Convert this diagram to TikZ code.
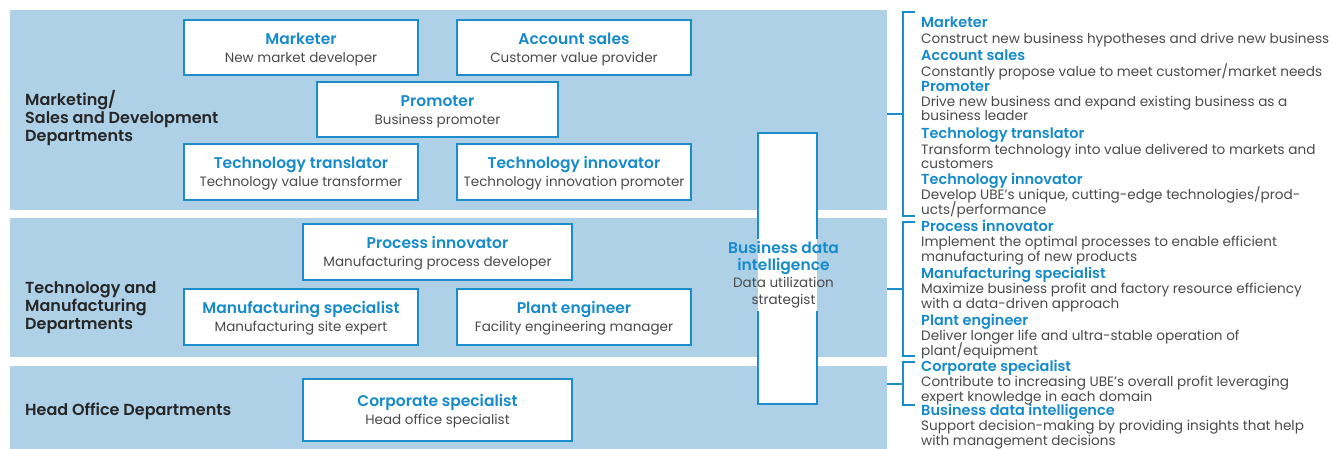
\documentclass[tikz,border=0pt]{standalone}
\usepackage{fontspec}
\setmainfont{Poppins}[BoldFont={Poppins SemiBold}]
\definecolor{panelblue}{HTML}{AED1E8}
\definecolor{edgeblue}{HTML}{1B8DCB}
\definecolor{titleblue}{HTML}{168BCB}
\definecolor{bodygray}{HTML}{4A4A4A}
\definecolor{deptdark}{HTML}{262626}
\newcommand\roleTitle[1]{{\fontsize{15.5}{18}\selectfont\bfseries\color{titleblue}\rule{0pt}{15pt}#1}}
\newcommand\roleSub[1]{{\color{bodygray}#1}}
\newcommand\colTitle[1]{{\fontsize{15.5}{17}\selectfont\bfseries\color{titleblue}#1}}
\newcommand\listTitle[1]{{\fontsize{14.5}{14.3}\selectfont\bfseries\color{titleblue}#1}}
\newcommand\listFont{\fontsize{13.6}{14.3}\selectfont\lineskiplimit-20pt\relax}
\tikzset{
  rolebox/.style={draw=edgeblue, line width=2.2pt, fill=white, inner sep=0pt,
    minimum width=234pt, minimum height=55pt, align=center,
    font=\fontsize{13.5}{18}\selectfont},
  deptlabel/.style={anchor=west, align=left, inner sep=0pt, text=deptdark,
    font=\fontsize{16}{18}\selectfont\bfseries},
  entry/.style={anchor=north west, align=left, inner sep=0pt, text=bodygray,
    font=\listFont},
  bracket/.style={draw=edgeblue, line width=1.3pt},
}
\begin{document}
\begin{tikzpicture}[x=1pt, y=-1pt]
\useasboundingbox (0,0) rectangle (1332,448);
\clip (0,0) rectangle (1332,448);

% department bands
\fill[panelblue] (10,10) rectangle (887,210);
\fill[panelblue] (10,218) rectangle (887,357);
\fill[panelblue] (10,366) rectangle (887,460);

% department names
\node[deptlabel] (dept1) at (25,118.5) {Marketing/\\Sales and Development\\Departments};
\node[deptlabel] (dept2) at (25,307.5) {Technology and\\Manufacturing\\Departments};
\node[deptlabel] (dept3) at (25,411) {Head Office Departments};

% roles in each department
\node[rolebox] (marketer) at (301,47.5) {\roleTitle{Marketer}\\\roleSub{New market developer}};
\node[rolebox] (account) at (574,47.5) {\roleTitle{Account sales}\\\roleSub{Customer value provider}};
\node[rolebox, minimum width=241pt] (promoter) at (437.5,109.5) {\roleTitle{Promoter}\\\roleSub{Business promoter}};
\node[rolebox, minimum height=56pt] (translator) at (301,172) {\roleTitle{Technology translator}\\\roleSub{Technology value transformer}};
\node[rolebox, minimum height=56pt] (techinnov) at (574,172) {\roleTitle{Technology innovator}\\\roleSub{Technology innovation promoter}};
\node[rolebox, minimum width=269pt, minimum height=56pt] (procinnov) at (437.5,252) {\roleTitle{Process innovator}\\\roleSub{Manufacturing process developer}};
\node[rolebox, minimum height=56pt] (mfgspec) at (301,317) {\roleTitle{Manufacturing specialist}\\\roleSub{Manufacturing site expert}};
\node[rolebox, minimum height=56pt] (plant) at (574,317) {\roleTitle{Plant engineer}\\\roleSub{Facility engineering manager}};
\node[rolebox, minimum width=269pt, minimum height=62pt] (corporate) at (437.5,410) {\roleTitle{Corporate specialist}\\\roleSub{Head office specialist}};

% cross-department column
\node[fill=white, inner sep=0pt, minimum width=59pt, minimum height=271pt] (bdi) at (787.5,268.5) {};
\node[align=center, inner sep=2pt, font=\fontsize{13.5}{17}\selectfont] (bditext) at (783.5,275)
  {\colTitle{Business data}\\\colTitle{intelligence}\\\roleSub{Data utilization}\\\roleSub{strategist}};
\draw[draw=edgeblue, line width=2.2pt] (bditext.north -| bdi.west) -- (bdi.north west) -- (bdi.north east) -- (bditext.north -| bdi.east);
\draw[draw=edgeblue, line width=2.2pt] (bditext.south -| bdi.west) -- (bdi.south west) -- (bdi.south east) -- (bditext.south -| bdi.east);

% brackets joining the bands to the role list
\coordinate (b1) at (903,114);
\coordinate (b2) at (903,289);
\coordinate (b3) at (903,384);
\draw[bracket] (915,12) -- (903,12) -- (903,216) -- (915,216);
\draw[bracket] (887,114) -- (b1);
\draw[bracket] (915,222) -- (903,222) -- (903,356) -- (915,356);
\draw[bracket] (887,289) -- (b2);
\draw[bracket] (915,362) -- (903,362) -- (903,405) -- (915,405);
\draw[bracket] (887,384) -- (b3);

% role descriptions
\node[entry] (e1) at (921,17) {\listTitle{Marketer}\\[1pt]Construct new business hypotheses and drive new business};
\node[entry] (e2) at (921,50) {\listTitle{Account sales}\\[1pt]Constantly propose value to meet customer/market needs};
\node[entry] (e3) at (921,81) {\listTitle{Promoter}\\[1pt]Drive new business and expand existing business as a\\business leader};
\node[entry] (e4) at (921,128) {\listTitle{Technology translator}\\[1pt]Transform technology into value delivered to markets and\\customers};
\node[entry] (e5) at (921,173) {\listTitle{Technology innovator}\\[1pt]Develop UBE’s unique, cutting-edge technologies/prod-\\ucts/performance};
\node[entry] (e6) at (921,220) {\listTitle{Process innovator}\\[1pt]Implement the optimal processes to enable efficient\\manufacturing of new products};
\node[entry] (e7) at (921,267) {\listTitle{Manufacturing specialist}\\[1pt]Maximize business profit and factory resource efficiency\\with a data-driven approach};
\node[entry] (e8) at (921,314) {\listTitle{Plant engineer}\\[1pt]Deliver longer life and ultra-stable operation of\\plant/equipment};
\node[entry] (e9) at (921,360) {\listTitle{Corporate specialist}\\[1pt]Contribute to increasing UBE’s overall profit leveraging\\expert knowledge in each domain};
\node[entry] (e10) at (921,404) {\listTitle{Business data intelligence}\\[1pt]Support decision-making by providing insights that help\\with management decisions};
\end{tikzpicture}
\end{document}
